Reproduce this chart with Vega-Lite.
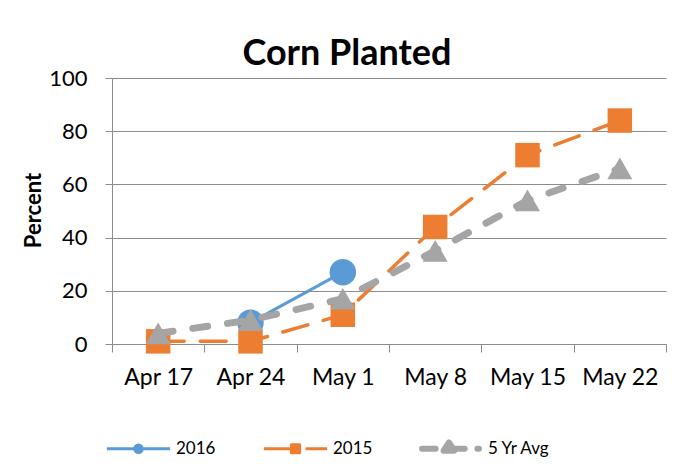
{
  "$schema": "https://vega.github.io/schema/vega-lite/v6.json",
  "width": 554,
  "height": 266,
  "autosize": {"type": "none"},
  "padding": {"left": 112, "top": 78, "right": 22, "bottom": 129},
  "background": "white",
  "title": {
    "text": "Corn Planted",
    "font": "Lato",
    "fontSize": 36,
    "fontWeight": "bold",
    "color": "black",
    "anchor": "middle",
    "frame": "group",
    "baseline": "alphabetic",
    "offset": 11,
    "dx": -42,
    "dy": 45
  },
  "data": {
    "values": [
      {"date": "Apr 24", "series": "2016", "value": 8},
      {"date": "May 1", "series": "2016", "value": 27},
      {"date": "Apr 17", "series": "2015", "value": 1},
      {"date": "Apr 24", "series": "2015", "value": 1},
      {"date": "May 1", "series": "2015", "value": 11},
      {"date": "May 8", "series": "2015", "value": 44},
      {"date": "May 15", "series": "2015", "value": 71},
      {"date": "May 22", "series": "2015", "value": 84},
      {"date": "Apr 17", "series": "5 Yr Avg", "value": 4},
      {"date": "Apr 24", "series": "5 Yr Avg", "value": 9},
      {"date": "May 1", "series": "5 Yr Avg", "value": 17},
      {"date": "May 8", "series": "5 Yr Avg", "value": 35},
      {"date": "May 15", "series": "5 Yr Avg", "value": 54},
      {"date": "May 22", "series": "5 Yr Avg", "value": 66}
    ]
  },
  "encoding": {
    "x": {
      "field": "date",
      "type": "ordinal",
      "sort": ["Apr 17", "Apr 24", "May 1", "May 8", "May 15", "May 22"],
      "scale": {"type": "band", "domain": ["Apr 17", "Apr 24", "May 1", "May 8", "May 15", "May 22"], "paddingInner": 0, "paddingOuter": 0},
      "axis": {
        "title": null,
        "labelAngle": 0,
        "tickBand": "extent",
        "tickSize": 8,
        "tickColor": "#8c8c8c",
        "domainColor": "#8c8c8c",
        "labelFont": "Lato",
        "labelFontSize": 23,
        "labelColor": "black",
        "labelPadding": 14,
        "grid": false
      }
    },
    "y": {
      "field": "value",
      "type": "quantitative",
      "scale": {"domain": [0, 100], "nice": false},
      "axis": {
        "values": [0, 20, 40, 60, 80, 100],
        "title": "Percent",
        "titleFont": "Lato",
        "titleFontSize": 22,
        "titleFontWeight": "bold",
        "titleColor": "black",
        "titleX": -79,
        "titleY": 132,
        "titleBaseline": "middle",
        "titleAlign": "center",
        "labelFont": "Lato",
        "labelFontSize": 22,
        "labelColor": "black",
        "labelPadding": 18,
        "tickSize": 7,
        "tickColor": "#8c8c8c",
        "domainColor": "#8c8c8c",
        "gridColor": "#8c8c8c",
        "grid": true
      }
    },
    "color": {
      "field": "series",
      "type": "nominal",
      "scale": {"domain": ["2016", "2015", "5 Yr Avg"], "range": ["#5B9BD5", "#ED7D31", "#A5A5A5"]},
      "legend": {
        "title": null,
        "orient": "none",
        "direction": "horizontal",
        "legendX": 18,
        "legendY": 362,
        "columnPadding": 46,
        "labelFont": "Lato",
        "labelFontSize": 17,
        "labelColor": "black",
        "labelOffset": 29,
        "symbolSize": 4000,
        "symbolStrokeWidth": 3,
        "encode": {
          "symbols": {
            "update": {
              "shape": {"signal": "datum.value == '2016' ? 'M-1,0H1M-0.12,0A0.12,0.12,0,1,1,0.12,0A0.12,0.12,0,1,1,-0.12,0Z' : datum.value == '2015' ? 'M-1,0H-0.15M0.32,0H1M-0.13,-0.13H0.13V0.13H-0.13Z' : 'M-0.9,0H-0.47M0,0H0.45M0.85,0H0.9M-0.05,-0.2L0.12,0.06L-0.22,0.06Z'"},
              "fill": {"signal": "datum.value == '2016' ? '#5B9BD5' : datum.value == '2015' ? '#ED7D31' : '#A5A5A5'"},
              "stroke": {"signal": "datum.value == '2016' ? '#5B9BD5' : datum.value == '2015' ? '#ED7D31' : '#A5A5A5'"},
              "strokeWidth": {"signal": "datum.value == '5 Yr Avg' ? 6 : 3"},
              "strokeCap": {"signal": "datum.value == '5 Yr Avg' ? 'round' : 'butt'"},
              "strokeJoin": {"value": "round"},
              "strokeDash": {"value": []},
              "size": {"value": 4000},
              "opacity": {"value": 1},
              "fillOpacity": {"value": 1},
              "strokeOpacity": {"value": 1}
            }
          }
        }
      }
    }
  },
  "layer": [
    {
      "transform": [{"filter": "datum.series == '2016'"}],
      "mark": {"type": "line", "strokeWidth": 3}
    },
    {
      "transform": [{"filter": "datum.series == '2016'"}],
      "mark": {"type": "point", "shape": "circle", "filled": true, "size": 700, "opacity": 1}
    },
    {
      "transform": [{"filter": "datum.series == '2015'"}],
      "mark": {"type": "line", "strokeWidth": 3.5, "strokeDash": [26, 16], "strokeCap": "round"}
    },
    {
      "transform": [{"filter": "datum.series == '2015'"}],
      "mark": {"type": "point", "shape": "square", "filled": true, "size": 600, "opacity": 1}
    },
    {
      "transform": [{"filter": "datum.series == '5 Yr Avg'"}],
      "mark": {"type": "line", "strokeWidth": 7, "strokeDash": [15, 20], "strokeCap": "round"}
    },
    {
      "transform": [{"filter": "datum.series == '5 Yr Avg'"}],
      "mark": {"type": "point", "shape": "triangle-up", "filled": true, "size": 625, "opacity": 1}
    }
  ],
  "config": {
    "view": {"stroke": null},
    "font": "Lato"
  }
}
